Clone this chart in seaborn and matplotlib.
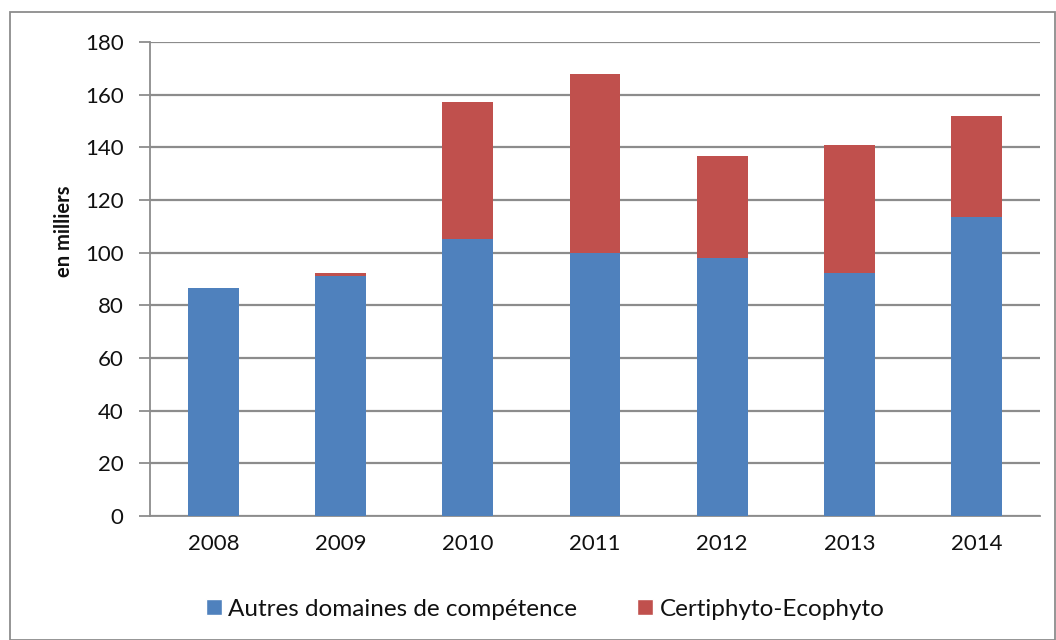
import matplotlib
matplotlib.use("Agg")
import matplotlib.pyplot as plt
import seaborn as sns
import pandas as pd
import numpy as np
from matplotlib.patches import Rectangle, Patch

years = ["2008", "2009", "2010", "2011", "2012", "2013", "2014"]
autres = [86.4, 91.3, 105.1, 99.7, 97.8, 92.1, 113.5]
certiphyto = [0.0, 0.9, 52.1, 68.3, 38.8, 48.7, 38.3]
yticks = [0, 20, 40, 60, 80, 100, 120, 140, 160, 180]

blue = "#4F81BD"
red = "#C0504D"
grid_c = "#8C8C8C"

sns.set_theme(style="white")
plt.rcParams['font.family'] = ['Lato', 'DejaVu Sans']

df = pd.DataFrame({"year": years, "autres": autres, "cert": certiphyto})
df["total"] = df["autres"] + df["cert"]

fig = plt.figure(figsize=(10.56, 6.4), dpi=100)
ax = fig.add_axes([150/1056, 1 - 516/640, (1040-150)/1056, (516-42)/640])

sns.barplot(data=df, x="year", y="total", color=red, saturation=1, width=0.4,
            ax=ax, edgecolor="none", zorder=3)
sns.barplot(data=df, x="year", y="autres", color=blue, saturation=1, width=0.4,
            ax=ax, edgecolor="none", zorder=4)

ax.set_ylim(0, 180)
ax.set_xlim(-0.5, len(years) - 0.5)
ax.set_yticks(yticks)
ax.set_yticklabels([str(v) for v in yticks], fontsize=16, color="#111111")
ax.yaxis.grid(True, color=grid_c, linewidth=1.6, zorder=0)
ax.set_axisbelow(True)

ax.set_xticks(range(len(years)))
ax.set_xticklabels(years, fontsize=16, color="#111111")
ax.set_xticks(np.arange(-0.5, len(years), 1.0), minor=True)
ax.tick_params(axis="x", which="major", length=0, pad=13)
ax.tick_params(axis="x", which="minor", length=8, width=1.3, color=grid_c, direction="out")
ax.tick_params(axis="y", which="major", length=8, width=1.3, color=grid_c, direction="out", pad=11, left=True)

for s in ["top", "right"]:
    ax.spines[s].set_visible(False)
for s in ["left", "bottom"]:
    ax.spines[s].set_color(grid_c)
    ax.spines[s].set_linewidth(1.3)

ax.set_xlabel("")
ax.set_ylabel("en milliers", fontsize=14.5, fontweight="bold", color="#111111")
ax.yaxis.set_label_coords(-0.085, 0.6)

handles = [Patch(facecolor=blue, label="Autres domaines de compétence"),
           Patch(facecolor=red, label="Certiphyto-Ecophyto")]
fig.legend(handles=handles, loc="center", bbox_to_anchor=(545/1056, 1 - 609/640),
           ncol=2, frameon=False, fontsize=17.5, handlelength=0.66, handleheight=0.6,
           handletextpad=0.25, columnspacing=2.5, labelcolor="#111111")

fig.patches.append(Rectangle((10/1056, 0.0), (1055-10)/1056, 1 - 12/640,
                             transform=fig.transFigure, fill=False,
                             edgecolor=grid_c, linewidth=1.3))

fig.savefig("out.png", dpi=100)
